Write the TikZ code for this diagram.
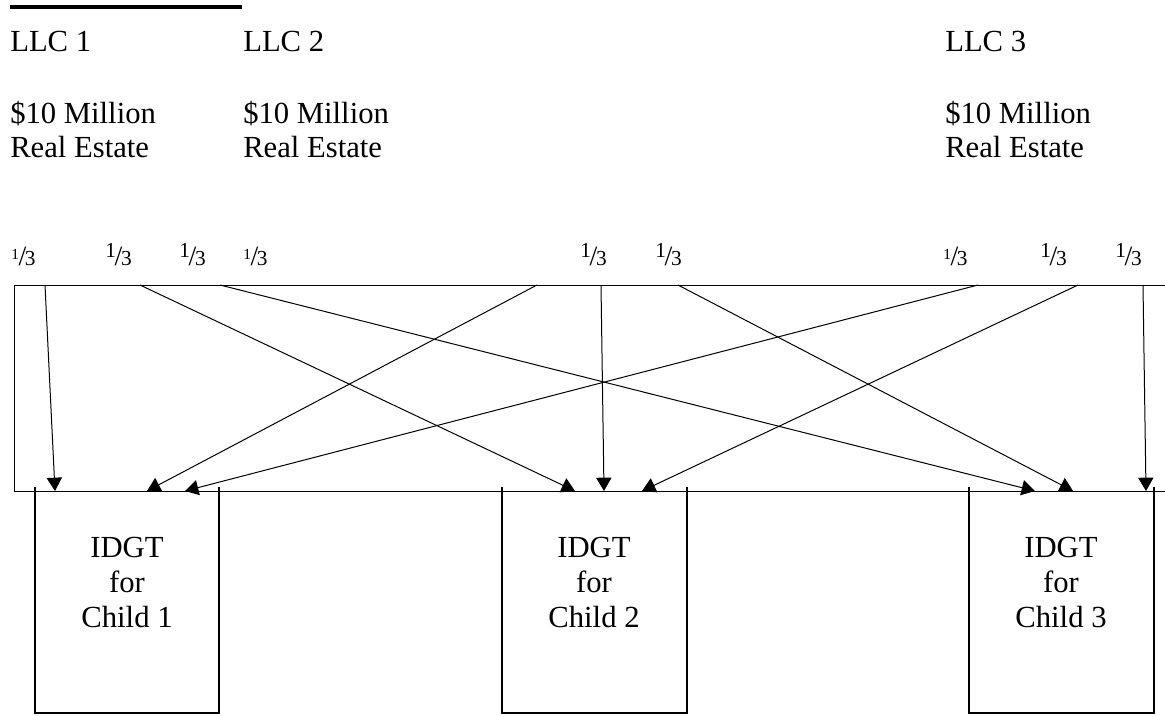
\documentclass[tikz,border=0pt]{standalone}
\usepackage{fontspec}
\setmainfont{Liberation Serif}
\usetikzlibrary{arrows.meta}
\newcommand{\bigthird}{\raisebox{5.5pt}{\fontsize{16}{16}\selectfont 1}\kern-1pt{\fontsize{21}{21}\selectfont/}\kern-1pt{\fontsize{16}{16}\selectfont 3}}
\newcommand{\smallthird}{\raisebox{4.5pt}{\fontsize{11.5}{11.5}\selectfont 1}\kern-0.3pt{\fontsize{21}{21}\selectfont/}\kern-1pt{\fontsize{16}{16}\selectfont 3}}
\begin{document}
\begin{tikzpicture}[x=0.75pt,y=-0.75pt,
  txt/.style={anchor=base west,inner sep=0pt,font=\fontsize{23}{25.5}\selectfont},
  trusttxt/.style={anchor=base,inner sep=0pt,font=\fontsize{23}{26.6}\selectfont},
  frac/.style={anchor=base west,inner sep=0pt},
  thin/.style={line width=0.75pt},
  flow/.style={line width=0.75pt,-{Triangle[length=10pt,width=11.5pt]}},
  trustbox/.style={line width=1.6pt}]
\useasboundingbox (0,0) rectangle (1165,715);
\fill[white] (0,0) rectangle (1165,715);
% top rule
\draw[line width=2.4pt] (10,7) -- (242,7);
% LLC labels
\node[txt] (llc1) at (10,51) {LLC 1};
\node[txt] (llc2) at (243,51) {LLC 2};
\node[txt] (llc3) at (945,51) {LLC 3};
\node[txt] (v1) at (10,123) {\begin{tabular}[t]{@{}l@{}}\$10 Million\\Real Estate\end{tabular}};
\node[txt] (v2) at (243,123) {\begin{tabular}[t]{@{}l@{}}\$10 Million\\Real Estate\end{tabular}};
\node[txt] (v3) at (945,123) {\begin{tabular}[t]{@{}l@{}}\$10 Million\\Real Estate\end{tabular}};
% fractions
\node[frac] (f1) at (11,265) {\smallthird};
\node[frac] (f2) at (105,265) {\bigthird};
\node[frac] (f3) at (179,265) {\bigthird};
\node[frac] (f4) at (243,265) {\smallthird};
\node[frac] (f5) at (580,265) {\bigthird};
\node[frac] (f6) at (655,265) {\bigthird};
\node[frac] (f7) at (943,265) {\smallthird};
\node[frac] (f8) at (1040,265) {\bigthird};
\node[frac] (f9) at (1115,265) {\bigthird};
% big frame (open at right)
\draw[thin] (1165,285) -- (14,285) -- (14,491) -- (1165,491);
% trust boxes
\draw[trustbox] (35,487) -- (35,713) -- (219,713) -- (219,487);
\draw[trustbox] (502,487) -- (502,713) -- (687,713) -- (687,487);
\draw[trustbox] (969,487) -- (969,713) -- (1154,713) -- (1154,487);
\node[trusttxt] (t1) at (127,557) {\begin{tabular}[t]{@{}c@{}}IDGT\\for\\Child 1\end{tabular}};
\node[trusttxt] (t2) at (594,557) {\begin{tabular}[t]{@{}c@{}}IDGT\\for\\Child 2\end{tabular}};
\node[trusttxt] (t3) at (1061,557) {\begin{tabular}[t]{@{}c@{}}IDGT\\for\\Child 3\end{tabular}};
% start points
\coordinate (s1) at (45,285);
\coordinate (s2) at (140,285);
\coordinate (s3) at (220,285);
\coordinate (s4) at (537,285);
\coordinate (s5) at (601,285);
\coordinate (s6) at (678,285);
\coordinate (s7) at (978,285);
\coordinate (s8) at (1078,285);
\coordinate (s9) at (1143,285);
% end points
\coordinate (e1) at (55,491);
\coordinate (e2) at (575,491);
\coordinate (e3) at (1035,491);
\coordinate (e4) at (147,491);
\coordinate (e5) at (604,491);
\coordinate (e6) at (1073,491);
\coordinate (e7) at (185,491);
\coordinate (e8) at (642,491);
\coordinate (e9) at (1146,491);
\foreach \i in {1,...,9} {\draw[flow] (s\i) -- (e\i);}
\end{tikzpicture}
\end{document}
